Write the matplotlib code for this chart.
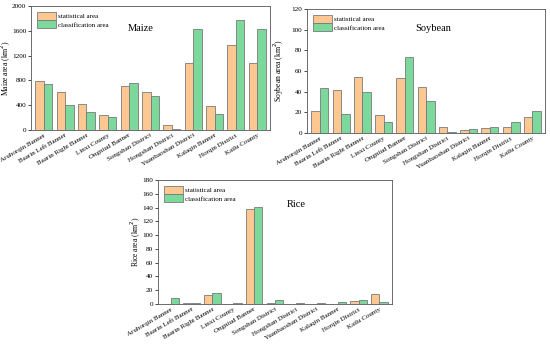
import numpy as np
import matplotlib
matplotlib.use("Agg")
import matplotlib.pyplot as plt

plt.rcParams["font.family"] = ["Liberation Serif", "DejaVu Serif"]

districts = [
    "Aruhorqin Banner", "Baarin Left Banner", "Baarin Right Banner", "Linxi County",
    "Ongniud Banner", "Songshan District", "Hongshan District", "Yuanbaoshan District",
    "Kalaqin Banner", "Horqin District", "Kailu County",
]

maize_stat = [790, 605, 425, 250, 710, 605, 75, 1080, 380, 1370, 1080]
maize_class = [750, 410, 285, 215, 760, 555, 20, 1635, 265, 1780, 1635]

soy_stat = [21, 41.5, 54.5, 17, 53.5, 45, 5.5, 3, 4.5, 5.5, 15.5]
soy_class = [44, 18, 40, 11, 73.5, 30.5, 1, 3.5, 6, 11, 21]

rice_stat = [0.5, 2, 12.5, 0, 138, 2, 0, 0, 0, 4, 14]
rice_class = [8, 1.5, 15.5, 2, 141, 6.5, 1, 1.5, 3.5, 6, 2.5]

ORANGE = "#fdc792"
GREEN = "#7dd89b"
EDGE = "#7a7a7a"

W, H = 550, 344


def panel(fig, rect_px, stat, cls, name, ymax, ystep, title_xy, ylab_x):
    x0, y0, x1, y1 = rect_px
    ax = fig.add_axes([x0 / W, 1 - y1 / H, (x1 - x0) / W, (y1 - y0) / H])
    x = np.arange(len(districts))
    w = 0.4
    ax.bar(x - w / 2, stat, w, color=ORANGE, edgecolor=EDGE, linewidth=0.6,
           label="statistical area")
    ax.bar(x + w / 2, cls, w, color=GREEN, edgecolor=EDGE, linewidth=0.6,
           label="classification area")
    ax.set_xlim(-0.6, len(districts) - 0.4)
    ax.set_ylim(0, ymax)
    ax.set_yticks(np.arange(0, ymax + 1, ystep))
    ax.set_xticks(x)
    ax.set_xticklabels(districts, rotation=30, ha="right", rotation_mode="anchor",
                       fontsize=5)
    ax.tick_params(axis="y", labelsize=5.2, length=2, width=0.5, pad=1.5)
    ax.tick_params(axis="x", length=0, pad=2)
    for s in ax.spines.values():
        s.set_linewidth(0.6)
        s.set_color("#555555")
    ax.set_ylabel(f"{name} area (km$^2$)", fontsize=5.5)
    ax.yaxis.set_label_coords(ylab_x, 0.5)
    ax.text(title_xy[0], title_xy[1], name, transform=ax.transAxes,
            fontsize=7.5, ha="center", va="center")
    ax.legend(loc="upper left", fontsize=5, frameon=False, handlelength=2.8,
              handleheight=1.4, borderaxespad=0.4, labelspacing=0.1,
              handletextpad=0.3)
    return ax


fig = plt.figure(figsize=(5.5, 3.44), dpi=100)
panel(fig, (31, 6, 270, 130), maize_stat, maize_class, "Maize", 2000, 400,
      (0.46, 0.82), -0.074)
panel(fig, (307, 9, 545, 133), soy_stat, soy_class, "Soybean", 120, 20,
      (0.53, 0.84), -0.088)
panel(fig, (158, 180, 392, 304), rice_stat, rice_class, "Rice", 180, 20,
      (0.59, 0.80), -0.064)

fig.savefig("out.png", dpi=100)
